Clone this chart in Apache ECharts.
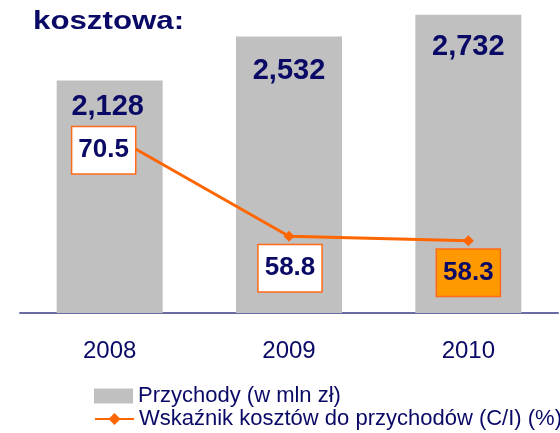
<!DOCTYPE html>
<html>
<head>
<meta charset="utf-8">
<script src="https://cdn.jsdelivr.net/npm/echarts@6/dist/echarts.min.js"></script>
<style>
html,body{margin:0;padding:0;background:#fff;}
#c{width:560px;height:433px;}
</style>
</head>
<body>
<div id="c"></div>
<script>
const categories = ['2008', '2009', '2010'];
const revenue = [2128, 2532, 2732];
const ciRatio = [70.5, 58.8, 58.3];
const seriesNames = ['Przychody (w mln zł)', 'Wskaźnik kosztów do przychodów (C/I) (%)'];
const titleText = 'kosztowa:';

const NAVY = '#0a0a66';
const FONT = "'Liberation Sans', Arial, sans-serif";

function commas(v) { return String(v).replace(/\B(?=(\d{3})+(?!\d))/g, ','); }

const barLabelOffsets = [[-2, 7], [0, 15], [0, 13]];
const lineLabelOffsets = [[-6, 16], [1, 32], [0, 32]];
const lineLabelBg = ['#ffffff', '#ffffff', '#ff9900'];

const legendBase = {
  orient: 'vertical', left: 94, padding: 0,
  itemWidth: 39, itemHeight: 15, itemGap: 2,
  textStyle: { fontSize: 22, color: NAVY, fontFamily: FONT }
};

const chart = echarts.init(document.getElementById('c'), null, { renderer: 'canvas' });
chart.setOption({
  animation: false,
  backgroundColor: '#ffffff',
  textStyle: { fontFamily: FONT },
  graphic: [{
    type: 'text', x: 33, y: 22, scaleX: 1.25, scaleY: 1.05,
    style: { text: titleText, font: "bold 25px 'Liberation Sans', Arial, sans-serif", fill: NAVY, verticalAlign: 'middle' }
  }],
  legend: [
    Object.assign({}, legendBase, { top: 385, data: [{ name: seriesNames[0], icon: 'rect' }] }),
    Object.assign({}, legendBase, { top: 408, data: [{ name: seriesNames[1] }] })
  ],
  grid: { left: 20, right: 2, top: 0, bottom: 120 },
  xAxis: {
    type: 'category', data: categories,
    axisLine: { lineStyle: { color: '#6b6ba3', width: 2 } },
    axisTick: { show: false },
    axisLabel: { fontSize: 24, color: NAVY, margin: 26, fontFamily: FONT }
  },
  yAxis: [
    { type: 'value', min: 0, max: 2866, show: false, splitLine: { show: false } },
    { type: 'value', min: 50, max: 85.9, show: false, splitLine: { show: false } }
  ],
  series: [
    {
      name: seriesNames[0], type: 'bar', barWidth: 106, yAxisIndex: 0,
      itemStyle: { color: '#c0c0c0' },
      data: revenue.map((v, i) => ({
        value: v,
        label: { offset: barLabelOffsets[i] }
      })),
      label: {
        show: true, position: 'insideTop', distance: 5,
        formatter: p => commas(p.value),
        fontSize: 29, fontWeight: 'bold', color: NAVY, fontFamily: FONT
      }
    },
    {
      name: seriesNames[1], type: 'line', yAxisIndex: 1, z: 5,
      symbol: 'diamond', symbolSize: 11,
      lineStyle: { color: '#ff6600', width: 3 },
      itemStyle: { color: '#ff6600' },
      data: ciRatio.map((v, i) => ({
        value: v,
        label: { offset: lineLabelOffsets[i], backgroundColor: lineLabelBg[i] }
      })),
      label: {
        show: true, position: 'inside',
        formatter: p => p.value.toFixed(1),
        fontSize: 26, fontWeight: 'bold', color: NAVY, fontFamily: FONT,
        lineHeight: 26, padding: [10, 6, 10, 6],
        borderColor: '#ff6a1a', borderWidth: 1.5
      }
    }
  ]
});
</script>
</body>
</html>
